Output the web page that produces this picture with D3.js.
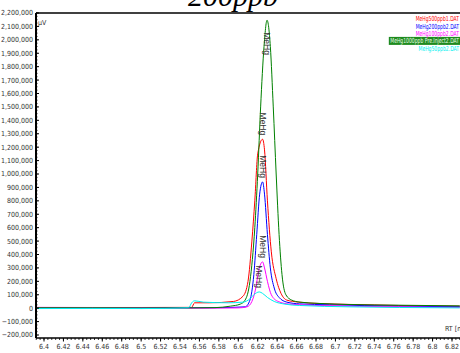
<!DOCTYPE html>
<html>
<head>
<meta charset="utf-8">
<script src="https://cdn.jsdelivr.net/npm/d3@7"></script>
<style>
  body { margin: 0; background: #fff; }
  svg { display: block; }
  .tick-label { font-family: "Liberation Sans Narrow", "DejaVu Sans Condensed", "Liberation Sans", sans-serif; font-size: 7px; fill: #333; }
</style>
</head>
<body>
<svg id="chart" width="460" height="353"></svg>
<script>
// series names, as in the legend
const seriesNames = ['MeHg500ppb1.DAT', 'MeHg200ppb2.DAT', 'MeHg100ppb2.DAT', 'MeHg1000ppb Pre.Inject2.DAT', 'MeHg50ppb2.DAT']
const seriesColors = ['#ff0000', '#0000ff', '#ff00ff', '#008000', '#00f0f0']

// retention times (min) and signals (uV)
const rtRed   = [6.392, 6.45, 6.5, 6.552, 6.555, 6.57, 6.595, 6.605, 6.61, 6.614, 6.617, 6.620, 6.625, 6.627, 6.630, 6.634, 6.639, 6.644, 6.650, 6.662, 6.683, 6.714, 6.765, 6.828]
const uvRed   = [4000, 5000, 5000, 6000, 40000, 40000, 50000, 90000, 200000, 500000, 800000, 1150000, 1259000, 1180000, 800000, 420000, 220000, 110000, 60000, 45000, 35000, 28000, 20000, 15000]

const rtBlue  = [6.392, 6.45, 6.5, 6.55, 6.58, 6.607, 6.612, 6.616, 6.619, 6.622, 6.625, 6.627, 6.630, 6.633, 6.637, 6.642, 6.650, 6.663, 6.694, 6.765, 6.828]
const uvBlue  = [2000, 3000, 2000, 3000, 4000, 10000, 60000, 250000, 550000, 850000, 941000, 850000, 550000, 300000, 150000, 80000, 45000, 32000, 25000, 15000, 10000]

const rtMag   = [6.392, 6.45, 6.5, 6.53, 6.57, 6.6, 6.609, 6.614, 6.618, 6.621, 6.625, 6.627, 6.630, 6.634, 6.641, 6.653, 6.684, 6.766, 6.828]
const uvMag   = [6000, 5000, 4000, 1000, 0, 2000, 10000, 50000, 150000, 280000, 345000, 300000, 200000, 100000, 50000, 30000, 20000, 10000, 5000]

const rtGreen = [6.392, 6.45, 6.5, 6.55, 6.576, 6.592, 6.602, 6.607, 6.612, 6.617, 6.620, 6.623, 6.6265, 6.6296, 6.633, 6.636, 6.639, 6.642, 6.645, 6.649, 6.655, 6.6635, 6.684, 6.715, 6.766, 6.828]
const uvGreen = [3000, 3000, 2000, 2000, 4000, 15000, 30000, 60000, 200000, 600000, 1000000, 1500000, 1950000, 2146000, 1950000, 1500000, 1000000, 550000, 250000, 100000, 60000, 45000, 35000, 27000, 22000, 17000]

const rtCyan  = [6.392, 6.45, 6.5, 6.549, 6.552, 6.555, 6.564, 6.590, 6.605, 6.612, 6.616, 6.6216, 6.625, 6.630, 6.637, 6.648, 6.663, 6.714, 6.766, 6.828]
const uvCyan  = [-3000, -2000, -3000, 3000, 40000, 55000, 45000, 40000, 45000, 70000, 100000, 121000, 110000, 80000, 50000, 30000, 20000, 10000, 5000, 2000]

const xTicks = [6.4, 6.42, 6.44, 6.46, 6.48, 6.5, 6.52, 6.54, 6.56, 6.58, 6.6, 6.62, 6.64, 6.66, 6.68, 6.7, 6.72, 6.74, 6.76, 6.78, 6.8, 6.82]
const yTicks = d3.range(-200000, 2200001, 100000)

const series = [
  { rt: rtRed, uv: uvRed },
  { rt: rtBlue, uv: uvBlue },
  { rt: rtMag, uv: uvMag },
  { rt: rtGreen, uv: uvGreen },
  { rt: rtCyan, uv: uvCyan }
].map((s, i) => ({ name: seriesNames[i], color: seriesColors[i], points: s.rt.map((t, j) => [t, s.uv[j]]) }))

const svg = d3.select('#chart')
const pLeft = 36, pRight = 460, pTop = 13, pBottom = 338

const x = d3.scaleLinear().domain([6.4, 6.82]).range([44, 452])
const y = d3.scaleLinear().domain([-200000, 2200000]).range([335, 13])

// title, cut by the top edge like the original
svg.append('text')
  .attr('x', 233).attr('y', 6)
  .attr('text-anchor', 'middle')
  .style('font-family', '"Liberation Serif", "DejaVu Serif", serif')
  .style('font-style', 'italic')
  .style('font-size', '30px')
  .text('200ppb')

// curves
svg.append('defs').append('clipPath').attr('id', 'clip')
  .append('rect').attr('x', pLeft).attr('y', pTop).attr('width', pRight - pLeft).attr('height', pBottom - pTop)
const plot = svg.append('g').attr('clip-path', 'url(#clip)')

const line = d3.line().x(d => x(d[0])).y(d => y(d[1])).curve(d3.curveMonotoneX)
plot.selectAll('.trace')
  .data(series)
  .enter()
  .append('path')
  .attr('fill', 'none')
  .attr('stroke', d => d.color)
  .attr('stroke-width', 1)
  .attr('d', d => line(d.points))

// peak labels
series.forEach(s => {
  const pk = s.points[d3.maxIndex(s.points, p => p[1])]
  const px = x(pk[0]), py = y(pk[1])
  const below = py - 30 < pTop
  svg.append('text')
    .attr('transform', `translate(${px},${below ? py + 12 : py - 4}) rotate(90)`)
    .attr('text-anchor', below ? 'start' : 'end')
    .attr('dy', '0.35em')
    .style('font-family', '"Liberation Sans", sans-serif')
    .style('font-size', '8.5px')
    .style('fill', '#333')
    .text('MeHg')
})

// axes frame
svg.append('line').attr('x1', pLeft).attr('x2', pRight).attr('y1', pTop).attr('y2', pTop)
  .attr('stroke', '#000').attr('stroke-width', 1.5)
svg.append('line').attr('x1', pLeft).attr('x2', pLeft).attr('y1', pTop).attr('y2', pBottom)
  .attr('stroke', '#000').attr('stroke-width', 2)
svg.append('line').attr('x1', pLeft).attr('x2', pRight).attr('y1', pBottom).attr('y2', pBottom)
  .attr('stroke', '#000').attr('stroke-width', 1.5)

// y ticks
const fmt = d3.format(',')
const yAxis = svg.append('g')
yAxis.selectAll('.ymin')
  .data(d3.range(-200000, 2200001, 25000))
  .enter().append('line')
  .attr('x1', pLeft).attr('x2', pLeft + 1.5)
  .attr('y1', d => y(d)).attr('y2', d => y(d))
  .attr('stroke', '#000').attr('stroke-width', 0.8)
yAxis.selectAll('.ymaj')
  .data(yTicks)
  .enter().append('line')
  .attr('x1', pLeft).attr('x2', pLeft + 3)
  .attr('y1', d => y(d)).attr('y2', d => y(d))
  .attr('stroke', '#000').attr('stroke-width', 1)
yAxis.selectAll('.ylab')
  .data(yTicks)
  .enter().append('text')
  .attr('class', 'tick-label')
  .attr('x', pLeft - 3).attr('y', d => y(d))
  .attr('dy', '0.35em')
  .attr('text-anchor', 'end')
  .text(d => fmt(d))

// x ticks
const xAxis = svg.append('g')
xAxis.selectAll('.xmin')
  .data(d3.range(6.392, 6.829, 0.004))
  .enter().append('line')
  .attr('x1', d => x(d)).attr('x2', d => x(d))
  .attr('y1', pBottom).attr('y2', pBottom + 2)
  .attr('stroke', '#000').attr('stroke-width', 0.8)
xAxis.selectAll('.xmaj')
  .data(xTicks)
  .enter().append('line')
  .attr('x1', d => x(d)).attr('x2', d => x(d))
  .attr('y1', pBottom).attr('y2', pBottom + 3.5)
  .attr('stroke', '#000').attr('stroke-width', 1)
xAxis.selectAll('.xlab')
  .data(xTicks)
  .enter().append('text')
  .attr('class', 'tick-label')
  .attr('x', d => x(d)).attr('y', pBottom + 11)
  .attr('text-anchor', 'middle')
  .text(d => String(+d.toFixed(2)))

// unit labels
svg.append('text').attr('class', 'tick-label').attr('x', 38).attr('y', 25).text('µV')
svg.append('text').attr('class', 'tick-label').attr('x', 445).attr('y', 331).text('RT [min]')

// legend, narrow type squeezed to the right edge
const legend = svg.append('g').attr('transform', 'translate(459,0) scale(0.72,1)')
series.forEach((s, i) => {
  const ly = 19 + i * 7.3
  const t = legend.append('text')
    .attr('x', 0).attr('y', ly)
    .attr('dy', '0.35em')
    .attr('text-anchor', 'end')
    .style('font-family', '"Liberation Sans Narrow", "DejaVu Sans Condensed", sans-serif')
    .style('font-size', '7px')
    .style('fill', i === 3 ? '#e8ffe8' : s.color)
    .text(s.name)
  if (i === 3) {
    const b = t.node().getBBox()
    legend.insert('rect', 'text')
      .attr('x', b.x - 2).attr('y', ly - 4).attr('width', b.width + 4).attr('height', 8)
      .attr('fill', '#1e8a1e')
  }
})
</script>
</body>
</html>
